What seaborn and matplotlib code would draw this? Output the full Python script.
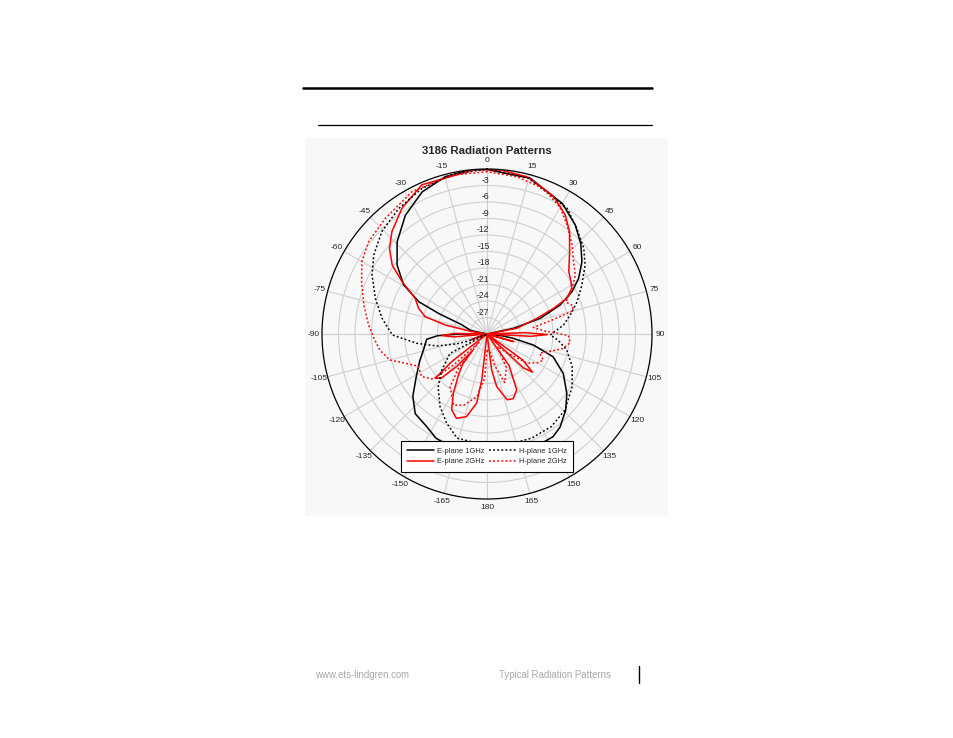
import numpy as np
import pandas as pd
import seaborn as sns
import matplotlib
matplotlib.use("Agg")
import matplotlib.pyplot as plt
from matplotlib.lines import Line2D
from matplotlib.patches import Rectangle
from matplotlib.transforms import offset_copy

# Pattern data: angle (deg, clockwise from boresight) and gain (dB)
e1_ang = [-180, -165, -154, -147, -138, -130, -121, -112, -104, -95, -92, -90, -88, -85,
          -78, -70, -67, -64.7, -59.5, -52.5, -44.3, -34.5, -24.5, -14.8, -6, 0, 15.5, 30,
          39, 46, 52.7, 58.7, 63.5, 68.4, 73.6, 78, 84, 90, 97, 99.3, 103.4, 109, 117.3,
          126.7, 134, 141.8, 147.2, 160, 170, 180]
e1_db = [-8, -8.2, -8.9, -9.9, -10.5, -12.4, -15, -16.8, -18.1, -19, -21, -25, -30, -30,
         -27, -25.2, -20.5, -16.3, -12.4, -9.4, -6.6, -3.8, -1.6, -0.4, 0, -0.1, -0.6, -2.6,
         -4.5, -6.3, -8.3, -10.5, -12.7, -15.7, -19.9, -25, -30, -30, -27, -25.2, -21.3, -17.3, -14.4,
         -11.9, -10.1, -8.5, -7.8, -7.5, -7.8, -8]

h1_ang = [-180, -164, -155.7, -147, -137.3, -128.5, -117.6, -113, -110, -108, -103.4, -97.5,
          -90.6, -81.5, -72.3, -62.8, -55.1, -45.7, -35.1, -24, -12, 0, 15, 32.5, 40.4, 48.5,
          54.9, 62.7, 70.3, 77.2, 83.3, 90.9, 95, 101.4, 111, 121.7, 134.3, 145.1, 156.8, 170, 180]
h1_db = [-9.7, -10.3, -12.2, -14.3, -16.9, -19.5, -22.4, -30, -26, -24.2, -20.6, -17.1,
         -12.8, -10.7, -8.7, -6.5, -4.9, -3.3, -2.1, -1.0, -0.3, 0, -0.7, -2.9, -4.8, -6.5,
         -8.2, -10.6, -12.6, -14.5, -16, -18.5, -17, -15.2, -13.4, -11.8, -10.2, -9.5, -9.4, -9.5, -9.7]

e2_ang = [-180, -177, -173.5, -171.5, -166, -160, -155, -150.4, -145, -141, -139, -137, -134,
          -130.5, -128, -126, -115, -110, -105, -98, -95, -92, -89, -86, -83, -81, -77.8, -74.3,
          -69.4, -63.5, -58.4, -54, -48.7, -42.9, -34.1, -23.6, -4, 5, 14.3, 25.9, 33.3, 38.9,
          45.1, 52.7, 58, 61.7, 65.9, 68.9, 72.6, 79.2, 84, 86, 88, 90.5, 93, 96, 102, 106, 110,
          122, 126, 130, 133, 136, 140, 145, 152, 158, 163, 169.6, 172.6, 177, 180]
e2_db = [-30, -30, -21.6, -17.3, -14.5, -13.7, -14.8, -17.6, -21, -23, -26, -22, -18.5,
         -17.6, -22, -30, -30, -27, -30, -30, -24, -21.8, -24, -30, -30, -27.2, -22.2, -18.3,
         -16.7, -15.4, -11.9, -8.7, -6.4, -4.6, -2.4, -0.4, 0, -0.1, -0.5, -2.2, -4.1, -6.1,
         -8.8, -11.3, -12, -12.5, -14.1, -17, -20.5, -24.5, -30, -30, -23, -19, -22, -30, -30, -25, -30,
         -30, -22, -19.2, -21, -30, -30, -23, -18.5, -17.3, -17.5, -20.3, -23.4, -30, -30]

h2_ang = [-180, -177, -171, -162, -155, -145, -140, -136, -133, -130, -123, -115, -109, -105,
          -98.5, -92, -85.6, -76.8, -67.4, -59.9, -52, -41.3, -27.8, -12.4, 0, 10.7, 21.3, 30.3,
          36.3, 43.7, 50.2, 56.3, 62, 68, 72, 75, 78, 82, 87, 91, 96, 101, 105, 110, 115, 120,
          126, 133, 140, 150, 160, 166, 172, 180]
h2_db = [-27, -22, -18.5, -16.4, -15.7, -18.3, -22, -28, -22, -17.2, -15.8, -16.2, -13.9, -11.7,
         -10.3, -9.4, -8.4, -7.0, -5.3, -3.7, -2.7, -2.0, -0.75, -0.4, -0.5, -0.9, -1.6, -3.5,
         -5.4, -7.6, -9.5, -10.7, -12.5, -14.5, -13.5, -14, -18, -21.5, -19.5, -15.2, -14.8, -16, -18, -19.8, -18.7, -19.5,
         -21, -25, -27, -23, -20.6, -24, -27, -27]

series_names = ["E-plane 1GHz", "E-plane 2GHz", "H-plane 1GHz", "H-plane 2GHz"]
series_data = [(e1_ang, e1_db), (e2_ang, e2_db), (h1_ang, h1_db), (h2_ang, h2_db)]
colors = {"E-plane 1GHz": "black", "E-plane 2GHz": "#ff0000",
          "H-plane 1GHz": "black", "H-plane 2GHz": "#ff0000"}
dot = (1.2, 1.5)
dashes = {"E-plane 1GHz": "", "E-plane 2GHz": "", "H-plane 1GHz": dot, "H-plane 2GHz": dot}

rows = []
for name, (ang, db) in zip(series_names, series_data):
    rows.append(pd.DataFrame({"theta": np.deg2rad(ang),
                              "gain": np.clip(db, -30, 0),
                              "series": name}))
df = pd.concat(rows, ignore_index=True)

sns.set_style("white")
plt.rcParams["font.family"] = ["Liberation Sans", "DejaVu Sans"]

W, H = 954, 738
fig = plt.figure(figsize=(W / 100, H / 100), dpi=100)
fx = lambda x: x / W
fy = lambda y: 1 - y / H

# light panel behind the chart picture
fig.patches.append(Rectangle((fx(305), fy(516)), (668 - 305) / W, (516 - 138) / H,
                             transform=fig.transFigure, facecolor="#f8f8f8",
                             edgecolor="none", zorder=-5))

R = 165
ax = fig.add_axes([fx(487 - R), fy(334 + R), 2 * R / W, 2 * R / H], projection="polar")
ax.set_facecolor("#f8f8f8")
ax.set_zorder(1)

sns.lineplot(data=df, x="theta", y="gain", hue="series", style="series",
             palette=colors, dashes=dashes, estimator=None, sort=True,
             legend=False, linewidth=1.1, ax=ax)

ax.set_theta_zero_location("N")
ax.set_theta_direction(-1)
ax.set_ylim(-30, 0)
ax.set_xlabel("")
ax.set_ylabel("")

angles = np.arange(0, 360, 15)
labels = [str(a) if a <= 180 else str(a - 360) for a in angles]
ax.set_thetagrids(angles, labels, fontsize=6)
ax.tick_params(axis="x", pad=-4.5)
ax.set_yticks(np.arange(-27, 0, 3))
ax.set_yticklabels([])
ax.grid(True, color="#cfcfcf", linewidth=0.8)
ax.spines["polar"].set_color("black")
ax.spines["polar"].set_linewidth(0.9)

lab_tr = offset_copy(ax.transData, fig=fig, x=1.8, y=0.6, units="points")
for v in range(-27, 0, 3):
    ax.text(0, v, str(v), transform=lab_tr, ha="right", va="bottom", fontsize=6.2)

fig.text(fx(487), fy(151), "3186 Radiation Patterns", ha="center", va="center",
         fontsize=8.2, fontweight="bold")

handles = [Line2D([], [], color="black", lw=1.1),
           Line2D([], [], color="#ff0000", lw=1.1),
           Line2D([], [], color="black", lw=1.1, dashes=dot),
           Line2D([], [], color="#ff0000", lw=1.1, dashes=dot)]
leg = fig.legend(handles, series_names, ncol=2, loc="center",
                 bbox_to_anchor=(fx(487), fy(456.5)), fontsize=5.4, frameon=True,
                 fancybox=False, edgecolor="black", framealpha=1, handlelength=3.6,
                 handletextpad=0.4, columnspacing=0.6, borderpad=0.85, labelspacing=0.45)
leg.get_frame().set_linewidth(0.8)
leg.set_zorder(5)

# page furniture
fig.add_artist(Line2D([fx(303), fx(652)], [fy(88), fy(88)], color="black", lw=1.8))
fig.add_artist(Line2D([fx(318), fx(652)], [fy(125), fy(125)], color="black", lw=0.9))
fig.add_artist(Line2D([fx(639), fx(639)], [fy(666), fy(683)], color="black", lw=1))
fig.text(fx(315), fy(675), "www.ets-lindgren.com", ha="left", va="center",
         fontsize=6.9, color="#a8a8a8")
fig.text(fx(499), fy(675), "Typical Radiation Patterns", ha="left", va="center",
         fontsize=6.9, color="#a8a8a8")

fig.savefig("out.png", dpi=100)
